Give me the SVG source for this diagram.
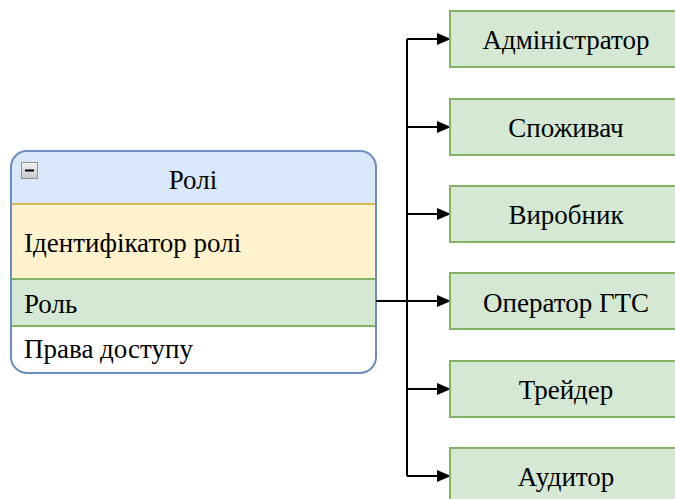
<svg xmlns="http://www.w3.org/2000/svg" width="675" height="499" viewBox="0 0 675 499">
  <style>
    .role { fill: #d5e8d4; stroke: #82b366; stroke-width: 2; }
    .wire { fill: none; stroke: #000; stroke-width: 2; }
    text { font-family: "Liberation Serif", serif; font-size: 27px; fill: #000; }
    .c { text-anchor: middle; }
  </style>
  <defs>
    <marker id="arrow" markerWidth="14" markerHeight="14" refX="13" refY="7" orient="auto" markerUnits="userSpaceOnUse">
      <path d="M0,1 L14,7 L0,13 Z" fill="#000"/>
    </marker>
    <linearGradient id="btn" x1="0" y1="0" x2="0" y2="1">
      <stop offset="0" stop-color="#f2f2f2"/>
      <stop offset="1" stop-color="#c8c8c8"/>
    </linearGradient>
    <clipPath id="tableClip">
      <rect x="11" y="151" width="365" height="222" rx="16" ry="16"/>
    </clipPath>
  </defs>

  <!-- Role table -->
  <g id="roles-table">
    <g clip-path="url(#tableClip)">
      <rect x="11" y="151" width="365" height="53" fill="#dae8fc"/>
      <rect x="11" y="204" width="365" height="75" fill="#fff2cc"/>
      <rect x="11" y="279" width="365" height="47" fill="#d5e8d4"/>
      <rect x="11" y="326" width="365" height="47" fill="#ffffff"/>
      <line x1="11" y1="204" x2="376" y2="204" stroke="#d6b656" stroke-width="2"/>
      <line x1="11" y1="279" x2="376" y2="279" stroke="#82b366" stroke-width="2"/>
      <line x1="11" y1="326" x2="376" y2="326" stroke="#82b366" stroke-width="2"/>
      <line x1="11" y1="204" x2="11" y2="279" stroke="#d6b656" stroke-width="2"/>
      <line x1="376" y1="204" x2="376" y2="279" stroke="#d6b656" stroke-width="2"/>
      <line x1="11" y1="279" x2="11" y2="326" stroke="#82b366" stroke-width="2"/>
      <line x1="376" y1="279" x2="376" y2="326" stroke="#82b366" stroke-width="2"/>
    </g>
    <rect x="11" y="151" width="365" height="222" rx="16" ry="16" fill="none" stroke="#6c8ebf" stroke-width="2"/>
    <!-- collapse button -->
    <rect x="21.5" y="162.5" width="16" height="16" fill="url(#btn)" stroke="#909090" stroke-width="1"/>
    <line x1="25" y1="170.5" x2="34" y2="170.5" stroke="#000" stroke-width="2"/>
    <text class="c" x="193" y="189">Ролі</text>
    <text x="24" y="252">Ідентифікатор ролі</text>
    <text x="24" y="313">Роль</text>
    <text x="24" y="358">Права доступу</text>
  </g>

  <!-- Connectors -->
  <g id="connectors">
    <path class="wire" d="M376,301 H407"/>
    <path class="wire" d="M407,39 V476"/>
    <path class="wire" d="M407,39 H450" marker-end="url(#arrow)"/>
    <path class="wire" d="M407,127 H450" marker-end="url(#arrow)"/>
    <path class="wire" d="M407,214 H450" marker-end="url(#arrow)"/>
    <path class="wire" d="M407,301 H450" marker-end="url(#arrow)"/>
    <path class="wire" d="M407,389 H450" marker-end="url(#arrow)"/>
    <path class="wire" d="M407,476 H450" marker-end="url(#arrow)"/>
  </g>

  <!-- Role values -->
  <g id="admin">
    <rect class="role" x="450" y="11" width="232" height="56"/>
    <text class="c" x="566" y="49">Адміністратор</text>
  </g>
  <g id="consumer">
    <rect class="role" x="450" y="99" width="232" height="56"/>
    <text class="c" x="566" y="137">Споживач</text>
  </g>
  <g id="producer">
    <rect class="role" x="450" y="186" width="232" height="56"/>
    <text class="c" x="566" y="224">Виробник</text>
  </g>
  <g id="gts-operator">
    <rect class="role" x="450" y="273" width="232" height="56"/>
    <text class="c" x="566" y="312">Оператор ГТС</text>
  </g>
  <g id="trader">
    <rect class="role" x="450" y="361" width="232" height="56"/>
    <text class="c" x="566" y="399">Трейдер</text>
  </g>
  <g id="auditor">
    <rect class="role" x="450" y="448" width="232" height="56"/>
    <text class="c" x="566" y="486">Аудитор</text>
  </g>
</svg>
